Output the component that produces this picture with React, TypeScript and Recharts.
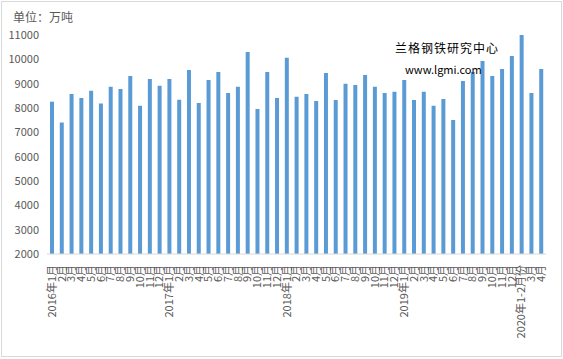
import { BarChart, Bar, XAxis, YAxis } from "recharts";

const months = [
  "2016年1月", "2月", "3月", "4月", "5月", "6月", "7月", "8月", "9月", "10月", "11月", "12月",
  "2017年1月", "2月", "3月", "4月", "5月", "6月", "7月", "8月", "9月", "10月", "11月", "12月",
  "2018年1月", "2月", "3月", "4月", "5月", "6月", "7月", "8月", "9月", "10月", "11月", "12月",
  "2019年1月", "2月", "3月", "4月", "5月", "6月", "7月", "8月", "9月", "10月", "11月", "12月",
  "2020年1-2月份", "3月", "4月",
];

// 产量，万吨
const output = [
  8260, 7400, 8580, 8410, 8710, 8180, 8870, 8780, 9320, 8090, 9190, 8910,
  9190, 8340, 9560, 8210, 9150, 9480, 8620, 8870, 10300, 7960, 9480, 8410,
  10060, 8460, 8580, 8290, 9440, 8330, 9000, 8950, 9360, 8870, 8620, 8670,
  9150, 8330, 8670, 8090, 8370, 7510, 9110, 9480, 9930, 9320, 9600, 10140,
  11000, 8620, 9600,
];

const yTicks = [2000, 3000, 4000, 5000, 6000, 7000, 8000, 9000, 10000, 11000];

const rows = months.map((m, i) => ({ month: m, value: output[i] }));

const font = '"Noto Sans CJK SC", "DejaVu Sans", sans-serif';

function MonthTick(props: any) {
  const { x, y, payload } = props;
  return (
    <text
      x={x}
      y={y + 3}
      transform={`rotate(-90, ${x}, ${y + 3})`}
      textAnchor="end"
      dy="0.35em"
      fontSize={11}
      fill="#595959"
      fontFamily={font}
    >
      {payload.value}
    </text>
  );
}

export default function App() {
  return (
    <div
      style={{
        position: "fixed",
        left: 0,
        top: 0,
        width: 563,
        height: 359,
        background: "#fff",
      }}
    >
      <div
        style={{
          position: "absolute",
          left: 1,
          top: 1,
          width: 559,
          height: 354,
          border: "1px solid #d9d9d9",
        }}
      />
      <div
        style={{
          position: "absolute",
          left: 13,
          top: 8,
          fontSize: 12,
          color: "#595959",
          fontFamily: font,
        }}
      >
        单位：万吨
      </div>
      <BarChart
        width={563}
        height={359}
        data={rows}
        margin={{ top: 35, right: 17, bottom: 0, left: 0 }}
        barCategoryGap={0}
      >
        <XAxis
          dataKey="month"
          interval={0}
          height={105}
          tick={<MonthTick />}
          tickLine={false}
          axisLine={{ stroke: "#d9d9d9" }}
        />
        <YAxis
          domain={[2000, 11000]}
          ticks={yTicks}
          allowDataOverflow
          width={47}
          axisLine={false}
          tickLine={false}
          tick={{ fontSize: 11, fill: "#595959", fontFamily: font }}
        />
        <Bar dataKey="value" fill="#5b9bd5" barSize={4} isAnimationActive={false} />
      </BarChart>
      <div
        style={{
          position: "absolute",
          left: 395,
          top: 39,
          fontSize: 12,
          color: "#000",
          fontFamily: font,
          letterSpacing: 1,
        }}
      >
        兰格钢铁研究中心
      </div>
      <div
        style={{
          position: "absolute",
          left: 405,
          top: 61,
          fontSize: 11,
          color: "#000",
          fontFamily: font,
        }}
      >
        www.lgmi.com
      </div>
    </div>
  );
}
